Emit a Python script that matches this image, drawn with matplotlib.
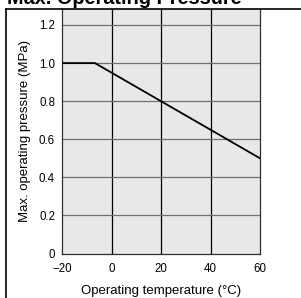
import numpy as np
import matplotlib.pyplot as plt
from matplotlib.lines import Line2D

# =========================
# Data
# =========================
temp = [-20, -6.7, 60]
pressure = [1.0, 1.0, 0.5]

x_ticks = [-20, 0, 20, 40, 60]
y_ticks = [0, 0.2, 0.4, 0.6, 0.8, 1.0, 1.2]
y_tick_labels = ["0", "0.2", "0.4", "0.6", "0.8", "1.0", "1.2"]

plt.rcParams["font.family"] = ["Liberation Sans", "DejaVu Sans"]

W, H = 301, 298
fig = plt.figure(figsize=(W / 100, H / 100), dpi=100)

# axes box in pixel coords
left, right, top, bottom = 62, 260, 9, 253.5
ax = fig.add_axes([left / W, 1 - bottom / H, (right - left) / W, (bottom - top) / H])
ax.set_facecolor("#e8e8e8")

ax.plot(temp, pressure, color="black", lw=1.3, zorder=3)

ax.set_xlim(-20, 60)
ax.set_ylim(0, 1.284)
ax.set_xticks(x_ticks)
ax.set_yticks(y_ticks)
ax.set_yticklabels(y_tick_labels)
ax.tick_params(length=0, labelsize=8.3, colors="black")
ax.tick_params(axis="x", pad=7)
ax.tick_params(axis="y", pad=5)

# grid: vertical lines black, horizontal gray
for xv in x_ticks[1:-1]:
    ax.axvline(xv, color="black", lw=0.9, zorder=1)
for yv in y_ticks[1:]:
    ax.axhline(yv, color="#707070", lw=0.9, zorder=1)

for s in ax.spines.values():
    s.set_color("#303030")
    s.set_linewidth(0.9)
ax.spines["top"].set_visible(False)

ax.set_xlabel("Operating temperature (\u00b0C)", fontsize=9.5, labelpad=7)
ax.set_ylabel("Max. operating pressure (MPa)", fontsize=9.5, labelpad=6)

# outer frame
fig.add_artist(Line2D([6 / W, 6 / W], [0, 1 - 9 / H], transform=fig.transFigure, color="black", lw=1.2))
fig.add_artist(Line2D([6 / W, 1], [1 - 9 / H, 1 - 9 / H], transform=fig.transFigure, color="black", lw=1.2))

fig.text(7 / W, 1 - 4.5 / H, "Max. Operating Pressure", fontsize=14.3, fontweight="bold",
         ha="left", va="baseline")

fig.savefig("out.png", dpi=100)
